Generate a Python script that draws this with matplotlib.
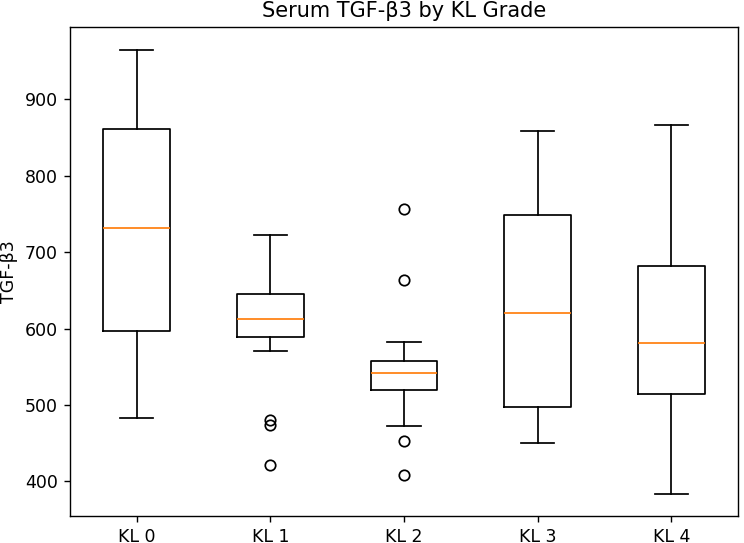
import matplotlib
matplotlib.use("Agg")
import matplotlib.pyplot as plt

# values
grades = ["KL 0", "KL 1", "KL 2", "KL 3", "KL 4"]
whisker_low = [483, 570, 472, 450, 384]
q1 = [597, 589, 520, 497, 514]
medians = [731, 612, 542, 620, 581]
q3 = [861, 645, 558, 748, 682]
whisker_high = [965, 722, 582, 858, 866]
outliers = [
    [],
    [480, 474, 422],
    [756, 663, 453, 409],
    [],
    [],
]

stats = []
for i, name in enumerate(grades):
    stats.append({
        "label": name,
        "whislo": whisker_low[i],
        "q1": q1[i],
        "med": medians[i],
        "q3": q3[i],
        "whishi": whisker_high[i],
        "fliers": outliers[i],
    })

fig = plt.figure(figsize=(744 / 125, 543 / 125), dpi=125)
ax = fig.add_axes([0.094, 0.05, 0.898, 0.8997])

ax.bxp(stats, showfliers=True)

ax.set_title("Serum TGF-β3 by KL Grade")
ax.set_ylabel("TGF-β3")

fig.savefig("out.png", dpi=125)
plt.close(fig)
